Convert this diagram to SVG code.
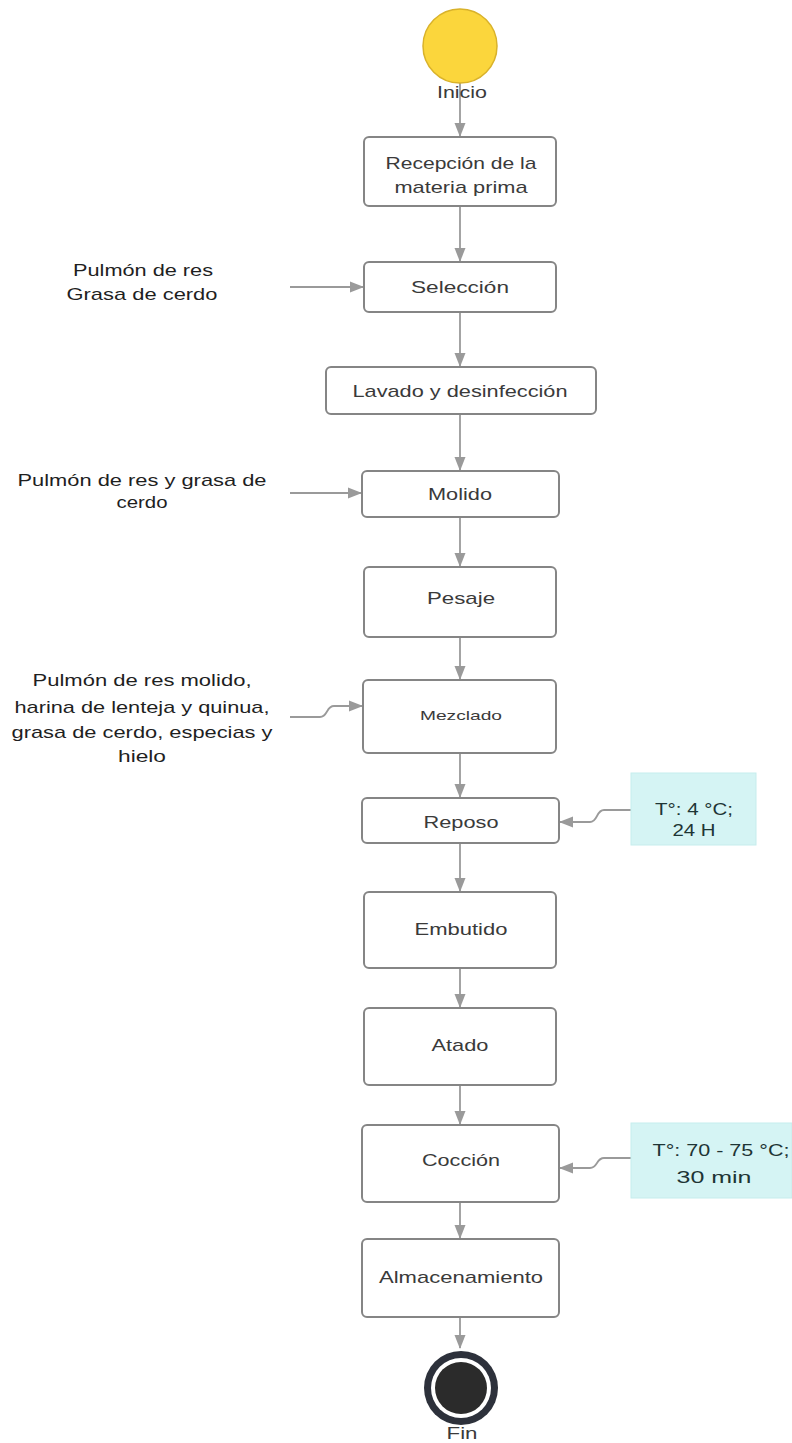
<svg xmlns="http://www.w3.org/2000/svg" width="792" height="1443" viewBox="0 0 792 1443">
<style>
.box{fill:#fff;stroke:#858585;stroke-width:2}
.t{font-family:"Liberation Sans",Arial,sans-serif;font-size:17px;fill:#3a3a3a;text-anchor:middle}
.s{font-family:"Liberation Sans",Arial,sans-serif;font-size:17px;fill:#1f1f1f;text-anchor:middle}
.n{font-family:"Liberation Sans",Arial,sans-serif;font-size:17px;fill:#1e3535;text-anchor:middle}
.c{fill:none;stroke:#9a9a9a;stroke-width:1.8}
.note{fill:#d5f4f4;stroke:#c6eded;stroke-width:1}
</style>
<defs>
<marker id="ah" markerUnits="userSpaceOnUse" markerWidth="14" markerHeight="14" viewBox="0 0 14 14" refX="13" refY="7" orient="auto">
<path d="M0,1.5 L14,7 L0,12.5 Z" fill="#9a9a9a"/>
</marker>
</defs>
<rect width="792" height="1443" fill="#fff"/>
<g id="connectors">
<line class="c" x1="460" y1="83" x2="460" y2="136" marker-end="url(#ah)"/>
<line class="c" x1="460" y1="206" x2="460" y2="261" marker-end="url(#ah)"/>
<line class="c" x1="460" y1="312" x2="460" y2="366" marker-end="url(#ah)"/>
<line class="c" x1="460" y1="414" x2="460" y2="470" marker-end="url(#ah)"/>
<line class="c" x1="460" y1="517" x2="460" y2="566" marker-end="url(#ah)"/>
<line class="c" x1="460" y1="637" x2="460" y2="679" marker-end="url(#ah)"/>
<line class="c" x1="460" y1="753" x2="460" y2="797" marker-end="url(#ah)"/>
<line class="c" x1="460" y1="843" x2="460" y2="891" marker-end="url(#ah)"/>
<line class="c" x1="460" y1="968" x2="460" y2="1007" marker-end="url(#ah)"/>
<line class="c" x1="460" y1="1085" x2="460" y2="1124" marker-end="url(#ah)"/>
<line class="c" x1="460" y1="1202" x2="460" y2="1238" marker-end="url(#ah)"/>
<line class="c" x1="460" y1="1317" x2="460" y2="1348" marker-end="url(#ah)"/>
<line class="c" x1="290" y1="287" x2="363" y2="287" marker-end="url(#ah)"/>
<line class="c" x1="290" y1="493" x2="361" y2="493" marker-end="url(#ah)"/>
<path class="c" d="M290,717 L320,717 C328,717 326,706 334,706 L362,706" marker-end="url(#ah)"/>
<path class="c" d="M631,810 L604,810 C596,810 598,822 590,822 L560,822" marker-end="url(#ah)"/>
<path class="c" d="M631,1158 L604,1158 C596,1158 598,1168 590,1168 L560,1168" marker-end="url(#ah)"/>
</g>
<g id="inicio">
<circle cx="460" cy="46" r="37" fill="#fbd63c" stroke="#d9b22a" stroke-width="1.5"/>
<text class="t" x="462" y="98" textLength="50" lengthAdjust="spacingAndGlyphs">Inicio</text>
</g>
<g id="recepcion">
<rect class="box" x="364" y="137" width="192" height="69" rx="5"/>
<text class="t" x="461" y="169" textLength="151" lengthAdjust="spacingAndGlyphs">Recepción de la</text>
<text class="t" x="461" y="193" textLength="133" lengthAdjust="spacingAndGlyphs">materia prima</text>
</g>
<g id="seleccion">
<rect class="box" x="364" y="262" width="192" height="50" rx="5"/>
<text class="t" x="460" y="293" textLength="98" lengthAdjust="spacingAndGlyphs">Selección</text>
</g>
<g id="in-seleccion">
<text class="s" x="143" y="276" textLength="140" lengthAdjust="spacingAndGlyphs">Pulmón de res</text>
<text class="s" x="142" y="300" textLength="151" lengthAdjust="spacingAndGlyphs">Grasa de cerdo</text>
</g>
<g id="lavado">
<rect class="box" x="326" y="367" width="270" height="47" rx="5"/>
<text class="t" x="460" y="397" textLength="215" lengthAdjust="spacingAndGlyphs">Lavado y desinfección</text>
</g>
<g id="molido">
<rect class="box" x="362" y="471" width="197" height="46" rx="5"/>
<text class="t" x="460" y="500" textLength="64" lengthAdjust="spacingAndGlyphs">Molido</text>
</g>
<g id="in-molido">
<text class="s" x="142" y="486" textLength="249" lengthAdjust="spacingAndGlyphs">Pulmón de res y grasa de</text>
<text class="s" x="142" y="508" textLength="51" lengthAdjust="spacingAndGlyphs">cerdo</text>
</g>
<g id="pesaje">
<rect class="box" x="364" y="567" width="192" height="70" rx="5"/>
<text class="t" x="461" y="604" textLength="68" lengthAdjust="spacingAndGlyphs">Pesaje</text>
</g>
<g id="mezclado">
<rect class="box" x="363" y="680" width="193" height="73" rx="5"/>
<text class="t" x="461" y="720" style="font-size:13px" textLength="82" lengthAdjust="spacingAndGlyphs">Mezclado</text>
</g>
<g id="in-mezclado">
<text class="s" x="142" y="686" textLength="219" lengthAdjust="spacingAndGlyphs">Pulmón de res molido,</text>
<text class="s" x="142" y="713" textLength="255" lengthAdjust="spacingAndGlyphs">harina de lenteja y quinua,</text>
<text class="s" x="142" y="738" textLength="261" lengthAdjust="spacingAndGlyphs">grasa de cerdo, especias y</text>
<text class="s" x="142" y="762" textLength="48" lengthAdjust="spacingAndGlyphs">hielo</text>
</g>
<g id="reposo">
<rect class="box" x="362" y="798" width="197" height="45" rx="5"/>
<text class="t" x="461" y="828" textLength="75" lengthAdjust="spacingAndGlyphs">Reposo</text>
</g>
<g id="note-reposo">
<rect class="note" x="631" y="773" width="125" height="72"/>
<text class="n" x="694" y="815" textLength="78" lengthAdjust="spacingAndGlyphs">T°: 4 °C;</text>
<text class="n" x="694" y="836" textLength="43" lengthAdjust="spacingAndGlyphs">24 H</text>
</g>
<g id="embutido">
<rect class="box" x="364" y="892" width="192" height="76" rx="5"/>
<text class="t" x="461" y="935" textLength="93" lengthAdjust="spacingAndGlyphs">Embutido</text>
</g>
<g id="atado">
<rect class="box" x="364" y="1008" width="192" height="77" rx="5"/>
<text class="t" x="460" y="1051" textLength="57" lengthAdjust="spacingAndGlyphs">Atado</text>
</g>
<g id="coccion">
<rect class="box" x="362" y="1125" width="197" height="77" rx="5"/>
<text class="t" x="461" y="1166" textLength="78" lengthAdjust="spacingAndGlyphs">Cocción</text>
</g>
<g id="note-coccion">
<rect class="note" x="631" y="1123" width="161" height="75"/>
<text class="n" x="721" y="1156" textLength="137" lengthAdjust="spacingAndGlyphs">T°: 70 - 75 °C;</text>
<text class="n" x="714" y="1183" textLength="75" lengthAdjust="spacingAndGlyphs">30 min</text>
</g>
<g id="almacenamiento">
<rect class="box" x="362" y="1239" width="197" height="78" rx="5"/>
<text class="t" x="461" y="1283" textLength="164" lengthAdjust="spacingAndGlyphs">Almacenamiento</text>
</g>
<g id="fin">
<circle cx="461" cy="1388" r="37" fill="#2d313b"/>
<circle cx="461" cy="1388" r="30" fill="#fff"/>
<circle cx="461" cy="1388" r="26" fill="#2b2b2b"/>
<text class="t" x="462" y="1439" textLength="31" lengthAdjust="spacingAndGlyphs">Fin</text>
</g>
</svg>
